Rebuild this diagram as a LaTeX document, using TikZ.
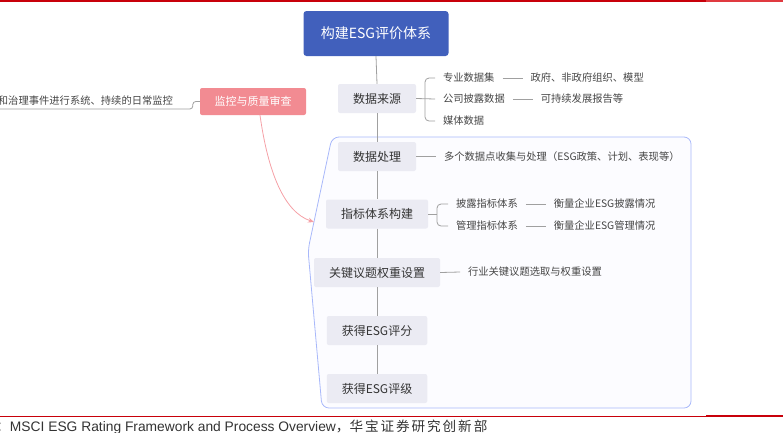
\documentclass[tikz,border=0pt]{standalone}
\usepackage{fontspec}
\setmainfont{Noto Sans CJK SC}
\newfontfamily\capfont{Liberation Sans}
\newfontfamily\capcjk{Noto Sans CJK SC}
\newfontfamily\capcjkwide[LetterSpace=14]{Noto Sans CJK SC}
\usetikzlibrary{arrows.meta,calc,positioning}
\definecolor{rootblue}{HTML}{4160BC}
\definecolor{boxfill}{HTML}{EBEBF3}
\definecolor{monpink}{HTML}{F28B92}
\definecolor{arrowpink}{HTML}{F5A0A6}
\definecolor{framedraw}{HTML}{A8B8FA}
\definecolor{framefill}{HTML}{FCFCFF}
\definecolor{linkgray}{HTML}{A0A0A0}
\definecolor{txtgray}{HTML}{333333}
\definecolor{leafgray}{HTML}{454545}
\definecolor{redA}{HTML}{C8000A}
\definecolor{redB}{HTML}{E03A40}
\begin{document}
\begin{tikzpicture}[x=1pt,y=-1pt,
	link/.style={draw=linkgray,line width=0.8pt},
	box/.style={fill=boxfill,rounded corners=2pt,inner xsep=15pt,minimum height=29pt,
		font=\fontsize{12}{14}\selectfont,text=txtgray},
	leaf/.style={inner sep=0pt,outer xsep=8pt,font=\fontsize{10.3}{12}\selectfont,text=leafgray},
	frame/.style={draw=framedraw,fill=framefill,line width=0.8pt}]
	\clip (0,0) rectangle (783,432);
	\draw[redA,line width=2.2pt] (0,1) -- (706,1);
	\draw[redB,line width=2pt] (706,1) -- (783,1);
	\draw[redA,line width=1.1pt] (0,416.5) -- (706,416.5);
	\draw[redA,line width=2.2pt] (706,416) -- (783,416);
	\node[anchor=west,inner sep=0pt,text=txtgray] (cap) at (-4,427)
		{\fontsize{13.8}{15}\selectfont\capcjk ：\capfont MSCI ESG Rating Framework and Process Overview\capcjk ，\capcjkwide\fontsize{13.6}{15}\selectfont 华宝证券研究创新部};
	\draw[frame,rounded corners=7pt] (332,137) -- (691,137) -- (691,408) -- (322,408) -- (308,250) -- cycle;
	\node[fill=rootblue,rounded corners=3pt,minimum width=145pt,minimum height=45pt,text=white,
		font=\fontsize{14}{16}\selectfont] (root) at (376,33.5) {构建ESG评价体系};
	\node[box] (src) at (377,98.5) {数据来源};
	\node[box] (proc) at (377,156.5) {数据处理};
	\node[box] (idx) at (377,214) {指标体系构建};
	\node[box] (key) at (377,272.5) {关键议题权重设置};
	\node[box] (score) at (377,330.5) {获得ESG评分};
	\node[box] (grade) at (377,388.5) {获得ESG评级};
	\foreach \a/\b in {root/src,src/proc,proc/idx,idx/key,key/score,score/grade}
		\draw[link] (\a.south) -- (\b.north);
	\node[leaf,anchor=west] (l1) at (435,78) {专业数据集};
	\node[leaf,anchor=west] (l2) at (435,99) {公司披露数据};
	\node[leaf,anchor=west] (l3) at (435,121) {媒体数据};
	\node[leaf,right=20pt of l1] (d1) {政府、非政府组织、模型};
	\node[leaf,right=20pt of l2] (d2) {可持续发展报告等};
	\coordinate (srcfork) at (425,99);
	\draw[link] (src.east) -- (l2.west);
	\draw[link,rounded corners=4pt] (l1.west) -| (srcfork |- l3.west) -- (l3.west);
	\draw[link] (l1.east) -- (d1.west);
	\draw[link] (l2.east) -- (d2.west);
	\node[leaf,anchor=west] (p1) at (436,156.5) {多个数据点收集与处理（ESG政策、计划、表现等）};
	\draw[link] (proc.east) -- (p1.west);
	\node[leaf,anchor=west] (i1) at (448,204) {披露指标体系};
	\node[leaf,anchor=west] (i2) at (448,226) {管理指标体系};
	\node[leaf,right=20pt of i1] (e1) {衡量企业ESG披露情况};
	\node[leaf,right=20pt of i2] (e2) {衡量企业ESG管理情况};
	\coordinate (idxfork) at (437,214);
	\draw[link] (idx.east) -- (idxfork);
	\draw[link,rounded corners=4pt] (i1.west) -| (idxfork |- i2.west) -- (i2.west);
	\draw[link] (i1.east) -- (e1.west);
	\draw[link] (i2.east) -- (e2.west);
	\node[leaf,anchor=west] (k1) at (460,272) {行业关键议题选取与权重设置};
	\draw[link] (key.east) -- (k1.west);
	\node[fill=monpink,rounded corners=2pt,minimum width=106pt,minimum height=27pt,text=white,
		font=\fontsize{11}{13}\selectfont] (mon) at (253,101.5) {监控与质量审查};
	\node[leaf,anchor=east,outer xsep=0pt] (montxt) at (173,101) {和治理事件进行系统、持续的日常监控};
	\coordinate (monend) at (0,109);
	\draw[link,rounded corners=3pt] (mon.west) -- ++(-7,0) |- (monend);
	\coordinate (hit) at (314,222);
	\draw[draw=arrowpink,line width=0.8pt,-{Stealth[length=6pt,width=5pt]}]
		($(mon.south)+(7,0)$) .. controls (268,172) and (284,212) .. (hit);
\end{tikzpicture}
\end{document}
